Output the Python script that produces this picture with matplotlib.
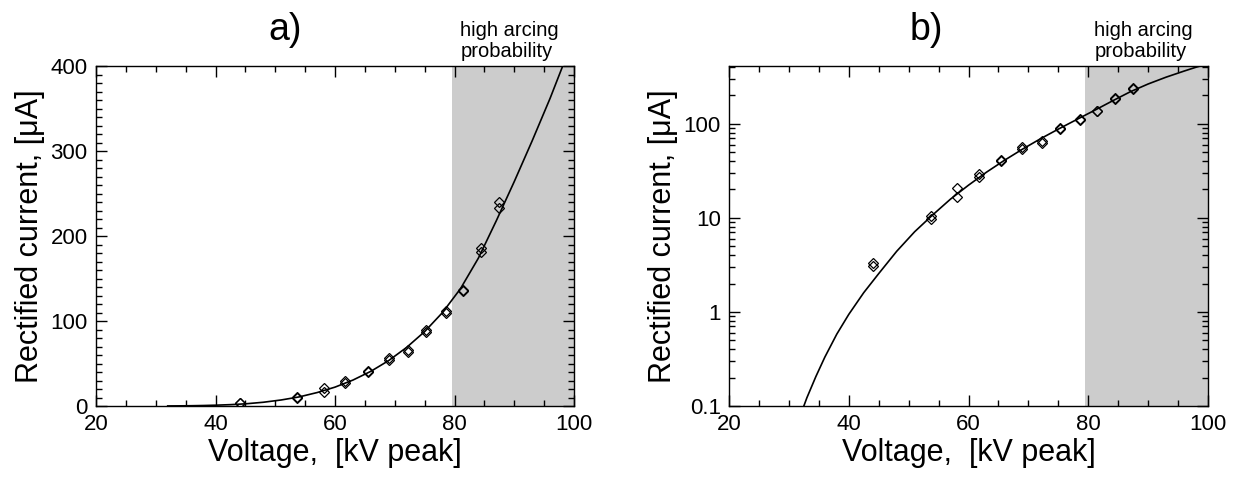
import matplotlib
matplotlib.use('Agg')
import matplotlib.pyplot as plt
from matplotlib.ticker import MultipleLocator, LogLocator, FixedLocator, NullFormatter

plt.rcParams['font.family'] = ['Liberation Sans', 'DejaVu Sans']

# measured points (voltage kV peak, rectified current uA)
volt = [44.1, 44.1, 53.7, 53.7, 58.1, 58.1, 61.7, 61.7, 65.5, 65.5, 69.0, 69.0,
        72.3, 72.3, 75.2, 75.2, 78.6, 78.6, 81.5, 81.5, 84.4, 84.4, 87.4, 87.4]
current = [3.3, 3.1, 10.4, 9.8, 20.8, 16.8, 29, 27, 41, 40, 56, 54,
           66, 63, 89, 87, 112, 109, 137, 135, 186, 181, 240, 233]

# fit curve
fit_volt = [32.0, 33.0, 34.5, 36.0, 38.0, 40.0, 42.5, 45.0, 48.0, 51.0, 54.0, 57.0, 60.0, 63.0,
            66.0, 69.0, 72.0, 75.0, 78.0, 81.0, 84.0, 87.0, 90.0, 93.0, 96.0, 98.0, 100.0]
fit_current = [0.082, 0.122, 0.205, 0.33, 0.58, 0.94, 1.6, 2.55, 4.4, 7.1, 10.7, 15.8, 22.2, 30.5,
               40.8, 53.5, 69, 87.5, 110, 138, 174, 218, 264, 312, 362, 398, 432]

arc_start = 79.5
panel_titles = ['a)', 'b)']

fig = plt.figure(figsize=(12.38, 4.78), dpi=100)
W, H = 1238., 478.
ax1 = fig.add_axes([96 / W, 72 / H, 478 / W, 340 / H])
ax2 = fig.add_axes([729 / W, 72 / H, 479 / W, 340 / H])


def style(ax):
    ax.axvspan(arc_start, 100, color='#cccccc', lw=0, zorder=0)
    ax.plot(fit_volt, fit_current, color='black', lw=1.2, zorder=2)
    ax.plot(volt, current, ls='none', marker='D', ms=5, mfc='none', mec='black',
            mew=0.9, zorder=3)
    ax.set_xlim(20, 100)
    ax.xaxis.set_major_locator(MultipleLocator(20))
    ax.xaxis.set_minor_locator(MultipleLocator(5))
    ax.tick_params(which='both', direction='in', top=True, right=True, labelsize=16, pad=6)
    ax.tick_params(which='major', length=8, width=1)
    ax.tick_params(which='minor', length=4, width=1)
    for s in ax.spines.values():
        s.set_linewidth(1)
    ax.set_xlabel('Voltage,  [kV peak]', fontsize=22, labelpad=2)
    ax.set_ylabel('Rectified current, [\u03bcA]', fontsize=22, labelpad=4)
    ax.text(81, 1.015, 'high arcing\nprobability', transform=ax.get_xaxis_transform(),
            ha='left', va='bottom', fontsize=14.5, linespacing=1.1)


style(ax1)
ax1.set_ylim(0, 400)
ax1.yaxis.set_major_locator(MultipleLocator(100))
ax1.yaxis.set_minor_locator(MultipleLocator(10))

style(ax2)
ax2.set_yscale('log')
ax2.set_ylim(0.1, 410)
ax2.yaxis.set_major_locator(FixedLocator([0.1, 1, 10, 100]))
ax2.yaxis.set_major_formatter(plt.FixedFormatter(['0.1', '1', '10', '100']))
ax2.yaxis.set_minor_locator(LogLocator(base=10, subs=range(2, 10)))
ax2.yaxis.set_minor_formatter(NullFormatter())

fig.text(285 / W, 1 - 30 / H, panel_titles[0], fontsize=27, ha='center', va='center')
fig.text(926 / W, 1 - 30 / H, panel_titles[1], fontsize=27, ha='center', va='center')

fig.savefig('out.png', dpi=100)
